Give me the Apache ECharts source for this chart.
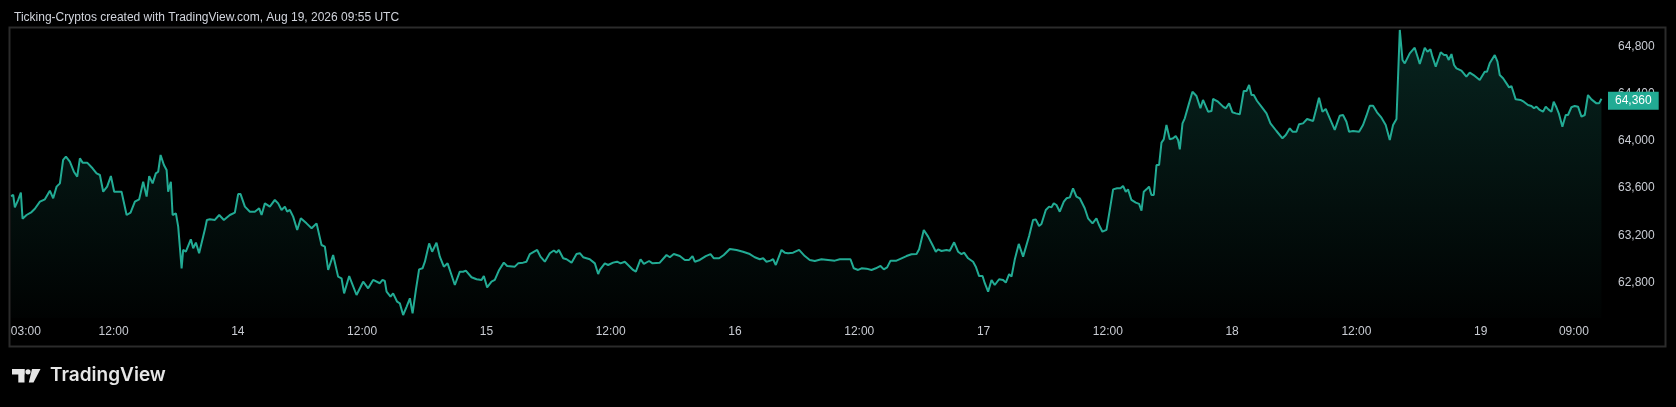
<!DOCTYPE html>
<html>
<head>
<meta charset="utf-8">
<script src="https://cdn.jsdelivr.net/npm/echarts@6/dist/echarts.min.js"></script>
<style>
html,body{margin:0;padding:0;background:#000;}
#c{width:1676px;height:407px;}
</style>
</head>
<body>
<div id="c"></div>
<script>
// Time is in hours since Aug 13, 00:00 (chart time); values are BTC-like prices.
const day13 = [[2.09,63533],[2.31,63542],[2.47,63437],[2.79,63500],[3.05,63562],[3.21,63341],[3.60,63372],[4.08,63397],[4.40,63425],[4.89,63485],[5.37,63505],[5.85,63579],[6.17,63514],[6.50,63613],[6.82,63641],[7.13,63840],[7.40,63868],[7.78,63825],[8.17,63740],[8.49,63698],[8.75,63854],[9.01,63817],[9.45,63817],[9.97,63769],[10.36,63726],[10.68,63712],[11.00,63570],[11.38,63613],[11.74,63703],[12.06,63570],[12.77,63570],[13.26,63372],[13.64,63392],[14.06,63485],[14.47,63505],[14.86,63655],[15.19,63528],[15.44,63703],[15.77,63641],[16.08,63726],[16.31,63740],[16.54,63882],[16.86,63797],[17.12,63755],[17.27,63570],[17.53,63655],[17.70,63372],[18.02,63386],[18.24,63273],[18.57,62919],[18.72,63075],[18.98,63060],[19.46,63165],[19.69,63089],[19.95,63137],[20.26,63047],[20.82,63250],[21.01,63330],[21.30,63335],[21.78,63330],[22.20,63372],[22.65,63330],[23.23,63372],[23.71,63392]];
const day14 = [[24.03,63550],[24.26,63550],[24.68,63443],[25.16,63400],[25.64,63400],[26.06,63429],[26.29,63372],[26.61,63471],[27.09,63443],[27.57,63500],[27.89,63471],[28.22,63415],[28.54,63443],[28.76,63400],[29.02,63415],[29.34,63358],[29.73,63245],[30.08,63344],[30.63,63301],[31.12,63259],[31.60,63301],[32.08,63117],[32.40,63103],[32.72,62905],[33.20,63032],[33.68,62848],[34.01,62834],[34.26,62706],[34.75,62853],[35.46,62692],[36.10,62805],[36.58,62749],[37.06,62820],[37.71,62792],[37.97,62820],[38.19,62811],[38.36,62720],[38.74,62678],[38.99,62706],[39.38,62635],[39.64,62621],[39.96,62522],[40.29,62592],[40.61,62664],[40.87,62536],[41.19,62735],[41.50,62910],[41.83,62919],[42.06,62975],[42.47,63131],[42.76,63060],[43.18,63137],[43.50,63018],[43.89,62933],[44.25,62961],[44.63,62862],[44.95,62777],[45.43,62890],[45.75,62890],[46.01,62899],[46.56,62843],[47.05,62826],[47.53,62820],[47.75,62853]];
const day15 = [[48.07,62757],[48.26,62749],[48.49,62805],[48.81,62820],[49.23,62905],[49.68,62967],[50.00,62939],[50.74,62933],[51.06,62961],[51.54,62967],[51.87,62975],[52.19,63040],[52.90,63075],[53.22,63018],[53.64,62975],[54.12,63047],[54.51,63070],[54.77,63052],[54.99,63075],[55.41,63004],[55.74,62996],[56.22,62967],[56.70,63040],[57.02,63047],[57.34,63013],[57.98,62996],[58.47,62961],[58.79,62870],[58.95,62905],[59.43,62961],[59.75,62947],[60.23,62967],[60.62,62975],[60.95,62961],[61.36,62975],[61.68,62947],[62.16,62905],[62.43,62890],[62.88,62996],[63.20,62956],[63.71,62981],[64.04,62961],[64.74,62967],[65.39,63032],[65.71,63013],[66.09,63040],[66.67,63023],[67.16,62990],[67.57,62990],[67.90,63023],[68.12,62975],[68.60,62990],[69.18,63023],[69.64,63040],[69.96,63004],[70.47,63004],[70.92,63032],[71.50,63083]];
const day16 = [[72.15,63075],[72.78,63060],[73.43,63040],[73.91,63013],[74.40,62996],[74.72,63004],[75.04,62975],[75.43,62984],[75.68,62996],[75.94,62947],[76.49,63075],[76.81,63052],[77.13,63047],[77.61,63052],[78.19,63075],[78.74,63023],[79.22,62990],[79.71,62981],[80.35,62996],[80.99,62990],[81.64,62984],[82.12,62996],[83.15,62996],[83.47,62919],[83.89,62905],[84.22,62919],[84.70,62916],[85.18,62905],[85.60,62919],[86.05,62939],[86.37,62910],[86.69,62927],[87.02,62984],[87.59,62984],[88.08,63004],[88.56,63023],[89.04,63038],[89.53,63040],[89.78,63080],[90.23,63245],[90.65,63188],[91.07,63117],[91.39,63060],[91.61,63080],[91.94,63066],[92.42,63075],[92.74,63068],[93.16,63140],[93.54,63060],[93.87,63040],[94.12,63052],[94.51,63004],[94.99,62975],[95.25,62933],[95.57,62853],[95.90,62853]];
const day17 = [[96.12,62792],[96.44,62720],[96.77,62820],[97.08,62777],[97.50,62826],[97.89,62820],[98.15,62797],[98.47,62870],[98.70,62848],[99.02,62996],[99.40,63126],[99.82,63018],[99.98,63004],[100.40,63194],[100.78,63330],[101.04,63335],[101.36,63279],[101.59,63296],[102.01,63415],[102.33,63443],[102.56,63437],[102.78,63471],[103.04,63457],[103.36,63400],[103.75,63485],[104.01,63514],[104.33,63522],[104.64,63599],[104.97,63528],[105.29,63514],[105.77,63429],[106.09,63344],[106.52,63301],[106.90,63344],[107.15,63287],[107.48,63230],[107.87,63245],[108.19,63415],[108.51,63590],[108.89,63599],[109.22,63599],[109.47,63619],[109.73,63570],[109.95,63590],[110.28,63500],[110.70,63477],[111.02,63466],[111.25,63409],[111.47,63570],[111.73,63590],[111.98,63613],[112.21,63542],[112.44,63542],[112.70,63797],[112.95,63797],[113.18,63987],[113.40,64015],[113.66,64137],[113.98,64015],[114.30,64024],[114.56,64044],[114.78,64010],[114.95,63930],[115.21,64151],[115.43,64194],[115.84,64321],[116.17,64420],[116.56,64384],[116.94,64279],[117.19,64350],[117.68,64250],[118.01,64256],[118.16,64358],[118.64,64335],[119.13,64293],[119.39,64279],[119.71,64321]];
const day18 = [[120.03,64245],[120.35,64236],[120.74,64228],[121.12,64426],[121.39,64426],[121.64,64477],[121.87,64392],[122.09,64392],[122.41,64341],[122.83,64293],[123.32,64236],[123.70,64151],[124.28,64086],[124.86,64024],[125.18,64052],[125.57,64109],[125.83,64080],[126.21,64080],[126.46,64143],[126.85,64151],[127.24,64188],[127.82,64171],[128.14,64279],[128.39,64369],[128.72,64250],[129.04,64273],[129.43,64194],[129.91,64095],[130.39,64216],[130.71,64222],[131.04,64165],[131.29,64080],[131.68,64086],[131.84,64103],[132.26,64080],[132.64,64137],[132.97,64216],[133.29,64301],[133.61,64301],[133.99,64245],[134.42,64199],[134.83,64137],[135.22,64010],[135.54,64137],[135.87,64188],[136.19,64945],[136.45,64690],[136.67,64661],[137.15,64746],[137.63,64794],[137.95,64704],[138.12,64656],[138.60,64794],[138.86,64760],[139.15,64780],[139.34,64718],[139.66,64633],[140.14,64755],[140.46,64732],[140.69,64732],[140.92,64690],[141.18,64740],[141.43,64647],[141.66,64619],[142.14,64599],[142.62,64548],[142.94,64582],[143.43,64554],[143.91,64520]];
const day19 = [[144.39,64590],[144.61,64590],[144.87,64661],[145.36,64732],[145.62,64675],[145.84,64562],[146.16,64534],[146.49,64491],[146.74,64457],[146.97,64468],[147.38,64355],[147.84,64350],[148.16,64335],[148.57,64307],[148.90,64299],[149.15,64279],[149.38,64293],[149.70,64265],[150.02,64250],[150.28,64293],[150.54,64270],[150.83,64250],[151.05,64335],[151.31,64288],[151.56,64231],[151.89,64123],[152.21,64222],[152.43,64222],[152.76,64288],[153.08,64299],[153.40,64293],[153.73,64208],[154.05,64222],[154.36,64392],[154.69,64355],[155.18,64321],[155.43,64321],[155.66,64360]];

const timeTicks = [3, 12, 24, 36, 48, 60, 72, 84, 96, 108, 120, 132, 144, 153];
const timeLabels = ['03:00','12:00','14','12:00','15','12:00','16','12:00','17','12:00','18','12:00','19','09:00'];
const priceTicks = [62800, 63200, 63600, 64000, 64400, 64800];
const lastPrice = 64360;
const titleText = 'Ticking-Cryptos created with TradingView.com, Aug 19, 2026 09:55 UTC';

const series = [].concat(day13, day14, day15, day16, day17, day18, day19);

const TXT = '#c9ccd3';
const FONT = 'Liberation Sans';
const chart = echarts.init(document.getElementById('c'), null, {renderer: 'canvas'});
chart.setOption({
  backgroundColor: '#000000',
  animation: false,
  title: {
    text: titleText, left: 9, top: 7,
    textStyle: {color: '#d1d4dc', fontSize: 12, fontWeight: 'normal', fontFamily: FONT}
  },
  grid: {left: 10, right: 70, top: 27, bottom: 89, containLabel: false},
  xAxis: {
    type: 'value', min: 2, max: 156.1,
    axisLine: {show: false}, axisTick: {show: false}, splitLine: {show: false},
    axisLabel: {
      customValues: timeTicks, margin: 8, color: TXT, fontSize: 12, fontFamily: FONT,
      formatter: function (v) {
        const i = timeTicks.indexOf(v);
        const s = i >= 0 ? timeLabels[i] : '';
        return i === 0 ? '{f|' + s + '}' : s;
      },
      rich: {f: {color: TXT, fontSize: 12, fontFamily: FONT, padding: [0, 0, 0, 11]}}
    }
  },
  yAxis: {
    type: 'value', position: 'right', min: 62496.5, max: 64970, scale: true,
    axisLine: {show: false}, axisTick: {show: false}, splitLine: {show: false},
    axisLabel: {
      customValues: priceTicks, margin: 12, color: TXT, fontSize: 12, fontFamily: FONT,
      formatter: function (v) { return v.toLocaleString('en-US'); }
    }
  },
  series: [{
    type: 'line', data: series, symbol: 'none', showSymbol: false, clip: false,
    lineStyle: {color: '#22ab94', width: 2},
    areaStyle: {
      color: new echarts.graphic.LinearGradient(0, 0, 0, 1, [
        {offset: 0, color: 'rgba(34,171,148,0.30)'},
        {offset: 1, color: 'rgba(34,171,148,0.02)'}
      ])
    },
    markLine: {
      silent: true, symbol: ['none', 'none'], animation: false, z: 50,
      lineStyle: {color: 'rgba(0,0,0,0)', width: 0, type: 'solid'},
      data: [{yAxis: lastPrice}],
      label: {
        show: true, position: 'end', distance: 2, offset: [0, 2],
        formatter: function () { return lastPrice.toLocaleString('en-US'); },
        backgroundColor: '#22ab94', color: '#ffffff', fontSize: 12, fontFamily: FONT,
        padding: [3, 7, 3, 7]
      },
      emphasis: {disabled: true}
    }
  }],
  graphic: [
    {type: 'rect', silent: true, z: 100,
     shape: {x: 9.5, y: 27.5, width: 1656, height: 319},
     style: {fill: 'none', stroke: '#2b2b2b', lineWidth: 2}},
    {type: 'group', left: 12, top: 369, silent: true, children: [
      {type: 'rect', shape: {x: 0.5, y: 0, width: 12.5, height: 5.5}, style: {fill: '#e6e6e6'}},
      {type: 'rect', shape: {x: 6.8, y: 0, width: 6.2, height: 13.5}, style: {fill: '#e6e6e6'}},
      {type: 'circle', shape: {cx: 16.5, cy: 2.8, r: 2.6}, style: {fill: '#e6e6e6'}},
      {type: 'polygon', shape: {points: [[20.5, 0], [29, 0], [22, 13.5], [17.3, 13.5]]}, style: {fill: '#e6e6e6'}}
    ]},
    {type: 'text', left: 50, top: 366, silent: true,
     style: {text: 'TradingView', fill: '#e6e6e6', fontSize: 19, fontWeight: 600, fontFamily: 'Inter'}}
  ]
});
</script>
</body>
</html>
